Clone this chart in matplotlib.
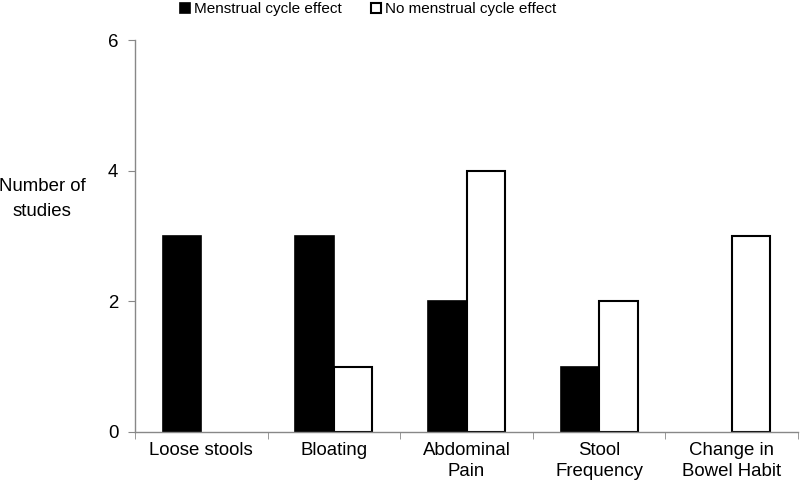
import matplotlib.pyplot as plt
from matplotlib.patches import Patch
import numpy as np

plt.rcParams['font.family'] = ['Liberation Sans', 'DejaVu Sans']

categories = ['Loose stools', 'Bloating', 'Abdominal\nPain', 'Stool\nFrequency', 'Change in\nBowel Habit']
effect = [3, 3, 2, 1, 0]
no_effect = [0, 1, 4, 2, 3]

fig = plt.figure(figsize=(8, 4.86), dpi=100)
ax = fig.add_axes([135 / 800, 1 - 432 / 486, 663 / 800, 392 / 486])

x = np.arange(len(categories))
w = 0.29
lw1 = [0 if v == 0 else 1.2 for v in effect]
lw2 = [0 if v == 0 else 1.5 for v in no_effect]
ax.bar(x - w / 2, effect, w, color='black', edgecolor='black', linewidth=lw1)
ax.bar(x + w / 2, no_effect, w, color='white', edgecolor='black', linewidth=lw2)

ax.set_xlim(-0.5, len(categories) - 0.5)
ax.set_ylim(0, 6)
ax.set_yticks([0, 2, 4, 6])
ax.set_xticks(x)
ax.set_xticklabels(categories, fontsize=13.4, linespacing=1.3)
ax.set_xticks(np.arange(len(categories) + 1) - 0.5, minor=True)
ax.tick_params(axis='x', which='major', length=0, pad=7)
ax.tick_params(axis='x', which='minor', length=5, color='#888888', direction='out')
ax.tick_params(axis='y', labelsize=13.4, length=5, color='#888888', pad=7)

for s in ['top', 'right']:
    ax.spines[s].set_visible(False)
for s in ['left', 'bottom']:
    ax.spines[s].set_color('#888888')
    ax.spines[s].set_linewidth(1)

fig.text(42 / 800, 1 - 199 / 486, 'Number of\nstudies', fontsize=13.4, ha='center', va='center',
         linespacing=1.6)

handles = [Patch(facecolor='black', edgecolor='black', linewidth=1.2),
           Patch(facecolor='white', edgecolor='black', linewidth=1.5)]
labels = ['Menstrual cycle effect', 'No menstrual cycle effect']
fig.legend(handles, labels, loc='center', bbox_to_anchor=(368 / 800, 1 - 9 / 486), ncol=2,
           frameon=False, fontsize=11,
           handlelength=0.65, handleheight=0.65, handletextpad=0.25, columnspacing=1.9)

plt.savefig('out.png', dpi=100)
